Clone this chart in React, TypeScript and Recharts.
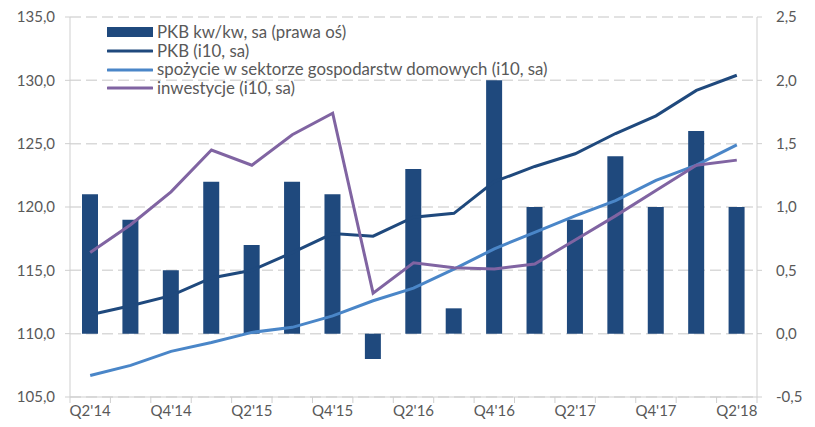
import { ComposedChart, Bar, Line, XAxis, YAxis, CartesianGrid } from 'recharts'

const quarters = [
  "Q2'14", "Q3'14", "Q4'14", "Q1'15", "Q2'15", "Q3'15", "Q4'15", "Q1'16", "Q2'16",
  "Q3'16", "Q4'16", "Q1'17", "Q2'17", "Q3'17", "Q4'17", "Q1'18", "Q2'18",
]
// PKB kw/kw, sa (right axis)
const pkbQoq = [1.1, 0.9, 0.5, 1.2, 0.7, 1.2, 1.1, -0.2, 1.3, 0.2, 2.0, 1.0, 0.9, 1.4, 1.0, 1.6, 1.0]
// levels, i10 sa (left axis)
const pkbLevel = [111.5, 112.2, 113.0, 114.4, 115.0, 116.4, 117.9, 117.7, 119.2, 119.5, 122.0, 123.2, 124.2, 125.8, 127.2, 129.2, 130.4]
const consumption = [106.7, 107.5, 108.6, 109.3, 110.1, 110.5, 111.4, 112.6, 113.6, 115.1, 116.7, 118.0, 119.3, 120.5, 122.1, 123.3, 124.9]
const investment = [116.4, 118.6, 121.2, 124.5, 123.3, 125.7, 127.4, 113.2, 115.6, 115.2, 115.1, 115.5, 117.4, 119.3, 121.3, 123.3, 123.7]

const leftTicks = [105, 110, 115, 120, 125, 130, 135]
const rightTicks = [-0.5, 0, 0.5, 1, 1.5, 2, 2.5]

const data = quarters.map((q, i) => ({
  q,
  qoq: pkbQoq[i],
  pkb: pkbLevel[i],
  cons: consumption[i],
  inv: investment[i],
}))

const NAVY = '#1f497d'
const BLUE = '#4a86c8'
const PURPLE = '#8064a2'
const TEXT = '#595959'
const AXIS = '#cfcfcf'
const FONT = 'Lato, "Noto Sans", sans-serif'

const W = 815
const H = 427
const PLOT_LEFT = 70
const PLOT_RIGHT = 757
const step = (PLOT_RIGHT - PLOT_LEFT) / quarters.length

const fmt = (v: number) => v.toFixed(1).replace('.', ',')

function QuarterTick(props: any) {
  const { x, y, payload, index } = props
  const l = x - step / 2
  const r = x + step / 2
  return (
    <g>
      <line x1={l} x2={l} y1={y} y2={y + 6} stroke={AXIS} />
      {index === quarters.length - 1 && <line x1={r} x2={r} y1={y} y2={y + 6} stroke={AXIS} />}
      {index % 2 === 0 && (
        <text x={x} y={y + 19} textAnchor="middle" fill={TEXT} fontSize={15} fontFamily={FONT}>
          {payload.value}
        </text>
      )}
    </g>
  )
}

const legendItems = [
  { label: 'PKB kw/kw, sa (prawa oś)', color: NAVY, bar: true },
  { label: 'PKB (i10, sa)', color: NAVY, bar: false },
  { label: 'spożycie w sektorze gospodarstw domowych (i10, sa)', color: BLUE, bar: false },
  { label: 'inwestycje (i10, sa)', color: PURPLE, bar: false },
]

function ChartLegend() {
  return (
    <div
      style={{
        position: 'absolute', left: 107, top: 23, fontFamily: FONT, fontSize: 16.8,
        color: TEXT, lineHeight: '18.7px', whiteSpace: 'nowrap',
      }}
    >
      {legendItems.map((it) => (
        <div key={it.label} style={{ display: 'flex', alignItems: 'center', height: 18.7 }}>
          <svg width={46} height={12} style={{ marginRight: 4 }}>
            {it.bar ? (
              <rect x={0} y={1} width={46} height={10} fill={it.color} />
            ) : (
              <line x1={1} x2={45} y1={6} y2={6} stroke={it.color} strokeWidth={3} strokeLinecap="round" />
            )}
          </svg>
          <span>{it.label}</span>
        </div>
      ))}
    </div>
  )
}

export default function App() {
  return (
    <div style={{ position: 'absolute', left: 0, top: 0, width: W, height: H, background: '#fff' }}>
      <ComposedChart
        width={W}
        height={H}
        data={data}
        margin={{ top: 17, right: 0, bottom: 0, left: 0 }}
        style={{ fontFamily: FONT }}
      >
        <CartesianGrid
          yAxisId="left"
          vertical={false}
          stroke="#d9d9d9"
          strokeWidth={1.5}
          strokeDasharray="11 5"
        />
        <XAxis
          dataKey="q"
          height={30}
          interval={0}
          tickSize={0}
          tickMargin={0}
          tickLine={false}
          axisLine={{ stroke: AXIS }}
          tick={<QuarterTick />}
        />
        <YAxis
          yAxisId="left"
          width={PLOT_LEFT}
          domain={[105, 135]}
          ticks={leftTicks}
          tickFormatter={fmt}
          tickSize={5}
          tickMargin={10}
          axisLine={{ stroke: AXIS }}
          tickLine={{ stroke: AXIS }}
          tick={{ fill: TEXT, fontSize: 15, fontFamily: FONT }}
          interval={0}
        />
        <YAxis
          yAxisId="right"
          orientation="right"
          width={W - PLOT_RIGHT}
          domain={[-0.5, 2.5]}
          ticks={rightTicks}
          tickFormatter={fmt}
          tickSize={5}
          tickMargin={14}
          axisLine={{ stroke: AXIS }}
          tickLine={{ stroke: AXIS }}
          tick={{ fill: TEXT, fontSize: 15, fontFamily: FONT, textAnchor: 'start' }}
          interval={0}
        />
        <Bar yAxisId="right" dataKey="qoq" fill={NAVY} barSize={16} isAnimationActive={false} />
        <Line yAxisId="left" type="linear" dataKey="pkb" stroke={NAVY} strokeWidth={3} dot={false} isAnimationActive={false} />
        <Line yAxisId="left" type="linear" dataKey="cons" stroke={BLUE} strokeWidth={3} dot={false} isAnimationActive={false} />
        <Line yAxisId="left" type="linear" dataKey="inv" stroke={PURPLE} strokeWidth={3} dot={false} isAnimationActive={false} />
      </ComposedChart>
      <ChartLegend />
    </div>
  )
}
